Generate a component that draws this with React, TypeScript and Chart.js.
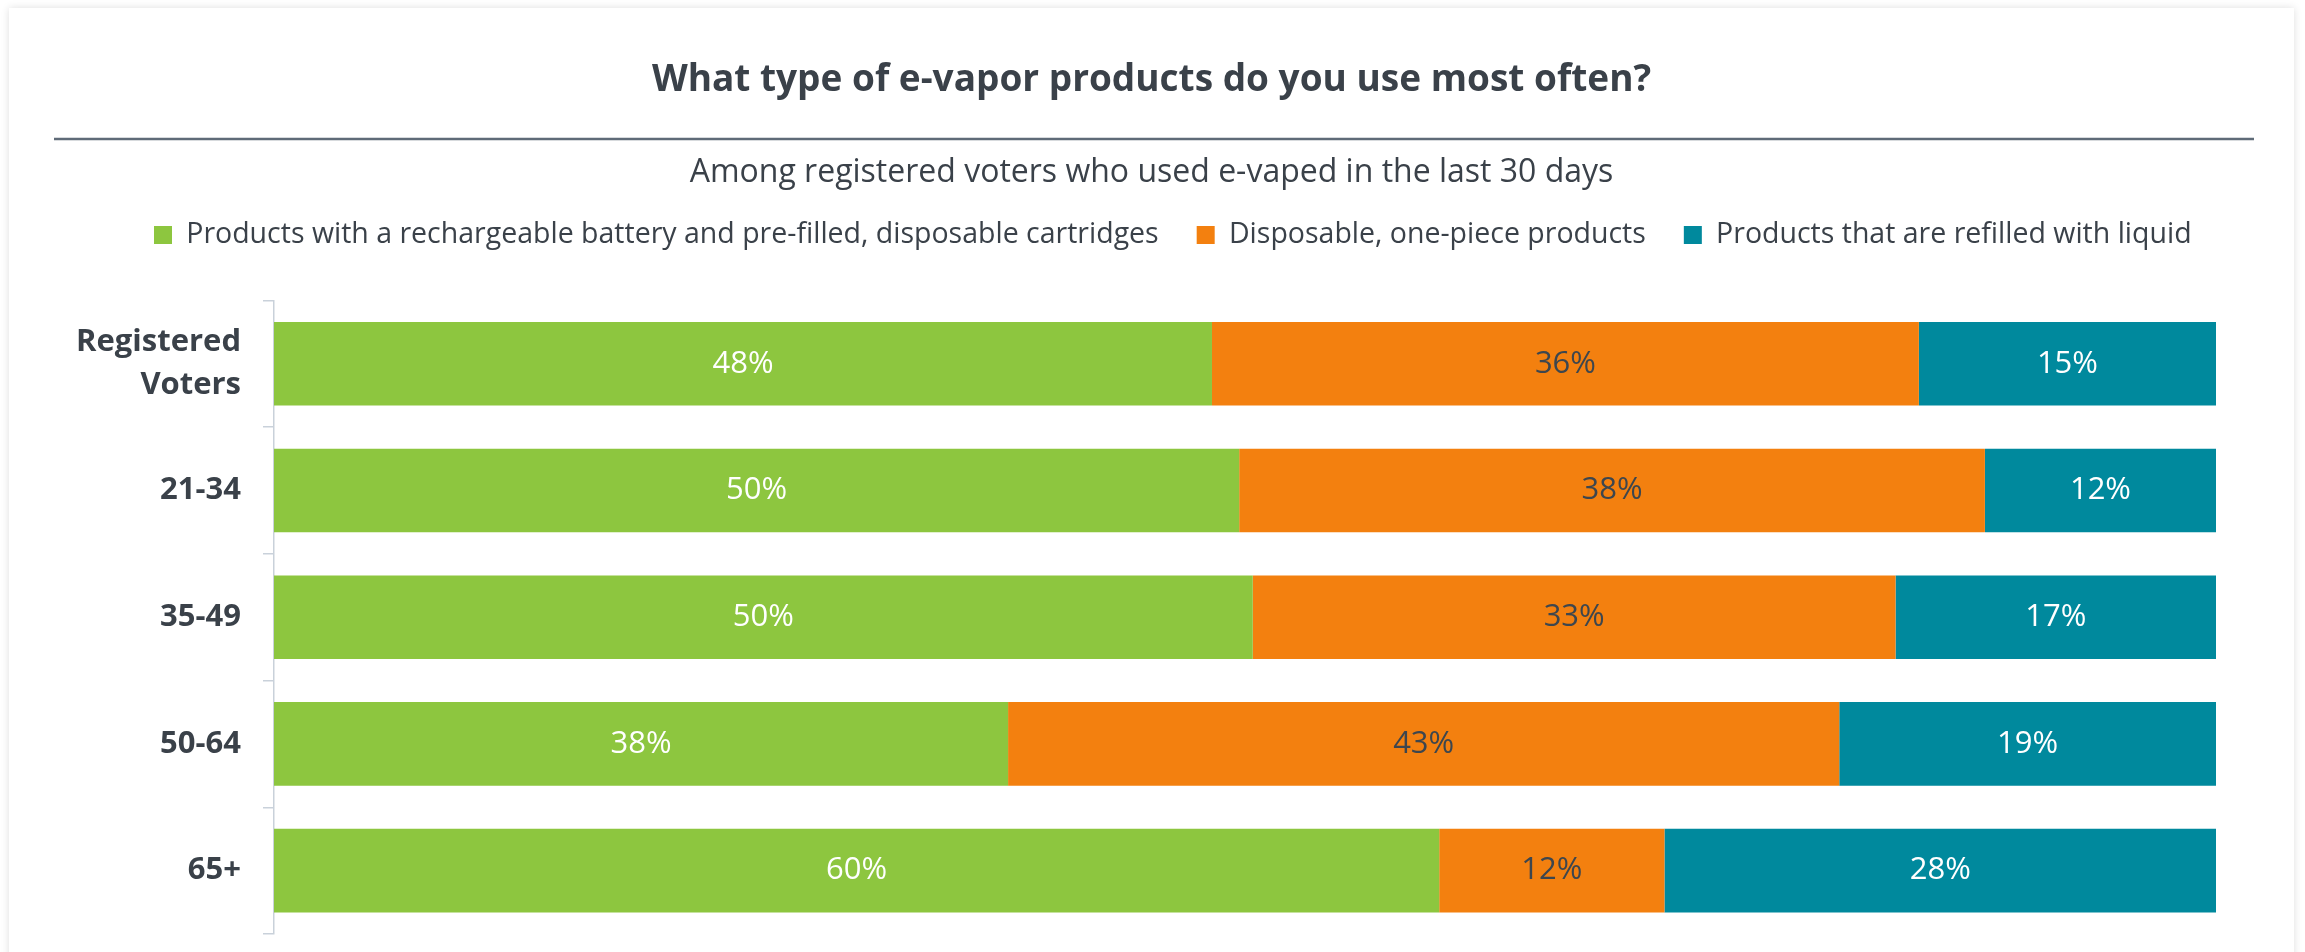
import React, { useEffect, useRef } from "react";
import { Chart, registerables } from "chart.js";

Chart.register(...registerables);

const chartTitle = "What type of e-vapor products do you use most often?";
const chartSubtitle = "Among registered voters who used e-vaped in the last 30 days";
const categories: (string | string[])[] = [["Registered", "Voters"], "21-34", "35-49", "50-64", "65+"];
const seriesNames = [
  "Products with a rechargeable battery and pre-filled, disposable cartridges",
  "Disposable, one-piece products",
  "Products that are refilled with liquid",
];
const rechargeable = [48.3, 49.7, 50.4, 37.8, 60.0];
const disposable = [36.4, 38.4, 33.1, 42.8, 11.6];
const refillable = [15.3, 11.9, 16.5, 19.4, 28.4];

const seriesColors = ["#8DC63F", "#F3800F", "#00899D"];
const labelColors = ["#ffffff", "#3d464e", "#ffffff"];
const textColor = "#3a4149";
const FONT = "'Open Sans', 'Noto Sans', sans-serif";
const LEGEND_FONT = 28.5;
const LEGEND_PAD = 38;

const barLabelPlugin = {
  id: "barLabels",
  afterDatasetsDraw(chart: any) {
    const ctx = chart.ctx;
    chart.data.datasets.forEach((ds: any, i: number) => {
      const meta = chart.getDatasetMeta(i);
      meta.data.forEach((bar: any, j: number) => {
        const v = ds.data[j];
        const p = bar.getProps(["x", "y", "base"], true);
        const cx = (p.x + p.base) / 2;
        ctx.save();
        ctx.font = `normal 31px ${FONT}`;
        ctx.fillStyle = labelColors[i];
        ctx.textAlign = "center";
        ctx.textBaseline = "middle";
        ctx.fillText(`${Math.round(v)}%`, cx, p.y);
        ctx.restore();
      });
    });
  },
};

const separatorPlugin = {
  id: "separator",
  afterDraw(chart: any) {
    const ctx = chart.ctx;
    ctx.save();
    ctx.strokeStyle = "#5f6b78";
    ctx.lineWidth = 2.5;
    ctx.beginPath();
    ctx.moveTo(45, 131);
    ctx.lineTo(2245, 131);
    ctx.stroke();
    ctx.restore();
  },
};

const legendPlacePlugin = {
  id: "legendPlace",
  beforeInit(chart: any) {
    const legend = chart.legend;
    if (!legend) return;
    const origFit = legend.fit;
    legend.fit = function () {
      origFit.call(this);
      this.height = 108.6;
    };
  },
  afterLayout(chart: any) {
    const legend = chart.legend;
    if (!legend) return;
    const h = legend.height;
    legend.top = 227 - LEGEND_PAD - LEGEND_FONT / 2;
    legend.bottom = legend.top + h;
    const w = legend.width;
    legend.left = 145 - LEGEND_PAD;
    legend.right = legend.left + w;
  },
};

export default function App() {
  const ref = useRef<HTMLCanvasElement | null>(null);

  useEffect(() => {
    if (!ref.current) return;
    const chart = new Chart(ref.current, {
      type: "bar",
      data: {
        labels: categories,
        datasets: [rechargeable, disposable, refillable].map((d, i) => ({
          label: seriesNames[i],
          data: d,
          backgroundColor: seriesColors[i],
          borderWidth: 0,
          barPercentage: 0.66,
          categoryPercentage: 1,
        })),
      },
      options: {
        indexAxis: "y",
        responsive: false,
        animation: false,
        layout: { padding: { left: 0, right: 0, top: 0, bottom: 18 } },
        scales: {
          x: { stacked: true, min: 0, max: 100, display: false },
          y: {
            stacked: true,
            afterFit(scale: any) {
              scale.width = 265;
              scale.paddingTop = 0;
              scale.paddingBottom = 0;
            },
            grid: {
              offset: true,
              drawOnChartArea: false,
              tickLength: 11,
              color: "#c9d1da",
              lineWidth: 1.5,
            },
            border: { display: true, color: "#c9d1da", width: 1.5 },
            ticks: {
              padding: 22,
              color: textColor,
              font: { family: FONT, size: 31, weight: "bold", lineHeight: 1.38 },
            },
          },
          yRight: {
            type: "linear",
            position: "right",
            display: true,
            grid: { display: false, drawTicks: false },
            border: { display: false },
            ticks: { display: false },
            afterFit(scale: any) {
              scale.width = 78;
              scale.paddingTop = 0;
              scale.paddingBottom = 0;
            },
          },
        },
        plugins: {
          title: {
            display: true,
            text: chartTitle,
            color: textColor,
            font: { family: FONT, size: 37, weight: "bold", lineHeight: 1.2 },
            padding: { top: 50, bottom: 26 },
          },
          subtitle: {
            display: true,
            text: chartSubtitle,
            color: textColor,
            font: { family: FONT, size: 32, weight: "normal", lineHeight: 1.2 },
            padding: { top: 25, bottom: 0 },
          },
          legend: {
            display: true,
            position: "top",
            align: "start",
            labels: {
              boxWidth: 18,
              boxHeight: 18,
              padding: LEGEND_PAD,
              color: textColor,
              font: { family: FONT, size: LEGEND_FONT, weight: "normal" },
            },
          },
          tooltip: { enabled: false },
        },
      },
      plugins: [barLabelPlugin, separatorPlugin, legendPlacePlugin],
    } as any);
    return () => chart.destroy();
  }, []);

  return (
    <div
      style={{
        position: "fixed",
        left: 9,
        top: 8,
        width: 2285,
        height: 960,
        background: "#ffffff",
        boxShadow: "0 0 8px rgba(0,0,0,0.13)",
      }}
    >
      <canvas ref={ref} width={2285} height={944} style={{ display: "block" }} />
    </div>
  );
}
